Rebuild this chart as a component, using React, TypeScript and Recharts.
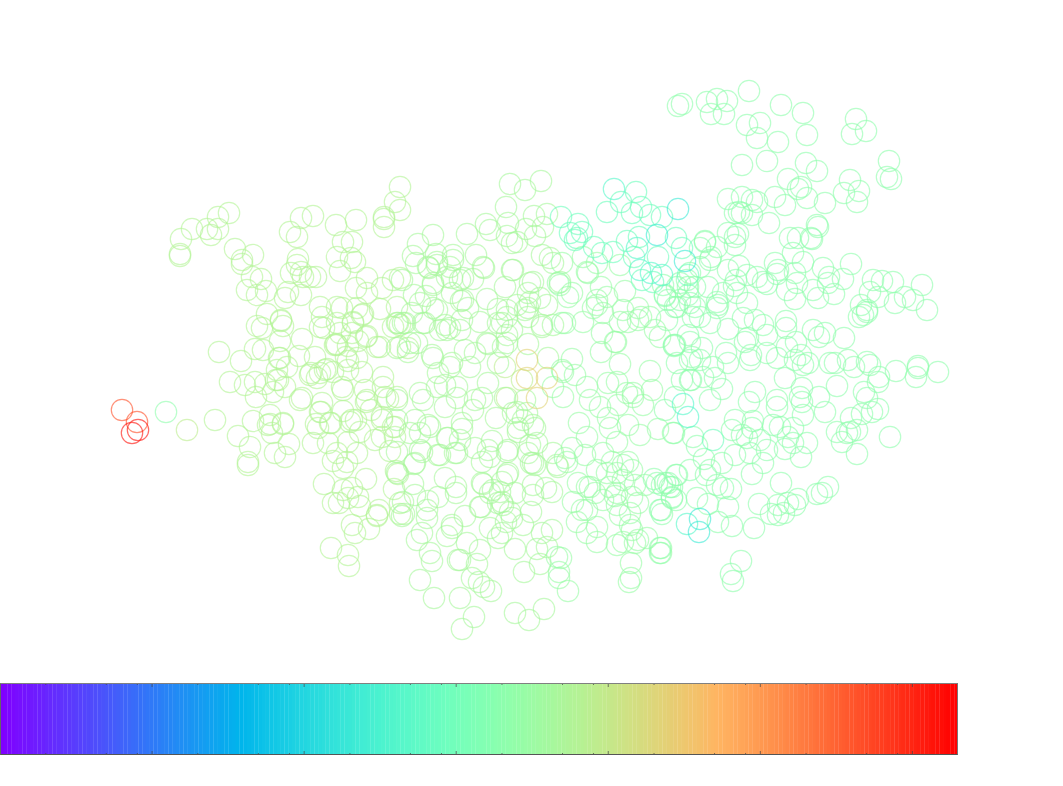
import { BarChart, Bar, Cell, ScatterChart, Scatter, XAxis, YAxis } from "recharts";

type Pt = [number, number];

// colour value of each group, read against the colour bar
const redValue = 0.98;
const coralValue = 0.9;
const tanValue = 0.69;
const yellowGreenValue = 0.62;
const leftValue = 0.6;
const centerValue = 0.58;
const midValue = 0.55;
const rightValue = 0.53;
const tealValue = 0.47;
const aquaValue = 0.42;
const cyanValue = 0.37;

const redPoints: Pt[] = [[138, 430], [132, 433]];
const coralPoints: Pt[] = [[122, 410], [137, 422]];
const tanPoints: Pt[] = [[527, 360], [527, 378], [547, 378], [537, 398]];
const yellowGreenPoints: Pt[] = [[187, 430], [507, 398], [505, 367], [522, 380]];

const leftPoints: Pt[] = [
  [229, 213], [218, 217], [218, 229], [207, 229], [211, 235], [192, 229], [181, 239], [180, 254], [180, 256], [235, 249],
  [253, 255], [242, 260], [242, 264], [252, 277], [261, 279], [247, 290], [257, 295], [266, 291], [301, 218], [313, 216],
  [290, 232], [297, 237], [336, 225], [356, 220], [384, 217], [384, 219], [384, 227], [400, 187], [395, 202], [400, 210],
  [343, 242], [352, 242], [337, 257], [351, 258], [355, 262], [340, 271], [298, 259], [297, 265], [291, 273], [301, 272],
  [303, 277], [310, 277], [316, 277], [367, 278], [356, 288], [367, 293], [382, 288], [393, 280], [400, 278], [285, 298],
  [288, 292], [301, 295], [320, 307], [337, 307], [322, 317], [342, 308], [357, 308], [363, 314], [380, 309], [397, 307],
  [267, 314], [281, 321], [281, 320], [283, 326], [257, 326], [262, 328], [280, 341], [302, 339], [320, 327], [324, 328],
  [353, 322], [353, 323], [337, 323], [367, 336], [366, 337], [393, 327], [400, 325], [336, 344], [337, 345], [348, 346],
  [358, 341], [377, 347], [380, 347], [400, 347], [219, 352], [241, 361], [255, 349], [263, 350], [299, 356], [315, 357],
  [279, 358], [280, 358], [287, 367], [277, 370], [357, 358], [348, 361], [346, 357], [348, 370], [362, 372], [327, 369],
  [333, 372], [320, 373], [317, 378], [311, 373], [383, 377], [230, 382], [245, 385], [255, 382], [265, 384], [278, 380],
  [276, 380], [285, 387], [300, 400], [273, 392], [256, 397], [343, 390], [365, 390], [383, 387], [397, 397], [367, 400],
  [215, 420], [238, 436], [250, 447], [248, 462], [248, 465], [253, 421], [270, 415], [270, 424], [268, 425], [272, 433],
  [283, 424], [289, 444], [275, 453], [285, 457], [322, 403], [321, 412], [343, 411], [331, 423], [330, 423], [316, 424],
  [318, 428], [313, 443], [328, 443], [337, 453], [333, 461], [347, 462], [343, 468], [348, 442], [357, 453], [352, 420],
  [356, 420], [360, 432], [371, 410], [366, 402], [382, 417], [388, 399], [382, 437], [375, 440], [390, 451], [395, 427],
  [395, 437], [366, 479], [324, 484], [352, 488], [343, 490], [348, 498], [358, 497], [333, 503], [339, 503], [360, 506],
  [394, 489], [396, 471], [398, 474], [379, 510], [377, 515], [377, 516], [400, 514], [400, 503], [352, 525], [355, 533],
  [369, 529], [331, 548], [348, 555], [349, 566], [362, 315], [352, 333], [340, 333], [335, 345], [398, 323], [408, 348],
  [325, 370], [310, 375], [342, 387], [385, 397], [302, 398], [320, 412], [350, 422], [382, 420], [393, 427], [283, 423],
];

const centerPoints: Pt[] = [
  [510, 184], [525, 190], [541, 181], [506, 207], [486, 224], [508, 223], [534, 216], [547, 214], [526, 229], [543, 227],
  [490, 230], [507, 236], [517, 242], [512, 243], [535, 236], [433, 235], [467, 234], [418, 244], [413, 256], [416, 263],
  [436, 254], [437, 265], [453, 255], [450, 267], [476, 255], [484, 268], [429, 268], [402, 280], [433, 283], [447, 277],
  [460, 280], [473, 279], [512, 270], [542, 255], [550, 258], [533, 282], [505, 287], [414, 295], [426, 296], [437, 310],
  [452, 293], [461, 301], [487, 299], [507, 310], [528, 293], [530, 302], [547, 305], [525, 310], [498, 309], [480, 322],
  [502, 323], [512, 330], [528, 317], [542, 327], [553, 325], [397, 323], [403, 323], [417, 343], [408, 352], [397, 348],
  [432, 355], [440, 330], [447, 330], [460, 330], [468, 308], [425, 323], [488, 344], [503, 347], [528, 344], [475, 353],
  [452, 363], [438, 373], [470, 367], [498, 363], [548, 358], [488, 383], [457, 387], [420, 393], [445, 385], [482, 398],
  [397, 400], [423, 400], [445, 407], [457, 398], [496, 418], [475, 400], [505, 398], [525, 400], [517, 412],
  [535, 428], [523, 420], [518, 432], [415, 420], [397, 420], [428, 425], [410, 433], [420, 433], [462, 429], [447, 438],
  [457, 453], [438, 455], [422, 452], [397, 452], [415, 463], [414, 464], [475, 448], [492, 441], [488, 450], [490, 457],
  [482, 462], [508, 450], [507, 452], [530, 445], [537, 443], [528, 453], [533, 463], [531, 463], [508, 473], [507, 475],
  [502, 482], [483, 484], [493, 490], [490, 493], [500, 492], [515, 493], [502, 502], [503, 505], [498, 503], [533, 485],
  [533, 495], [397, 473], [413, 484], [445, 478], [456, 487], [456, 493], [438, 497], [428, 501], [415, 495], [403, 502],
  [404, 514], [402, 516], [427, 510], [427, 518], [422, 533], [417, 540], [452, 525], [452, 528], [447, 536], [465, 516],
  [481, 507], [467, 543], [480, 550], [460, 560], [458, 560], [477, 564], [430, 553], [432, 561], [420, 580], [434, 598],
  [460, 598], [472, 578], [479, 582], [484, 587], [491, 591], [474, 617], [462, 629], [515, 613], [529, 620], [544, 609],
  [524, 572], [540, 564], [515, 549], [537, 549], [547, 547], [498, 538], [502, 533], [490, 528], [512, 518], [523, 525],
  [542, 533], [552, 530], [531, 512], [506, 522], [510, 512], [480, 507], [552, 492], [546, 488], [557, 465], [553, 453],
  [428, 267], [437, 262], [453, 260], [483, 267], [463, 278], [452, 278], [433, 285], [420, 303], [433, 308], [412, 313],
  [405, 323], [423, 323], [445, 325], [462, 320], [450, 328], [463, 300], [513, 270], [530, 283], [540, 298], [560, 282],
  [553, 263], [517, 305], [528, 308], [507, 317], [498, 323], [542, 325], [507, 335], [507, 343], [487, 343], [410, 343],
  [433, 358], [465, 350], [450, 367], [437, 387], [473, 410], [462, 423], [430, 427], [448, 438], [460, 440], [440, 455],
  [420, 450], [455, 453], [518, 428], [527, 413], [533, 425], [513, 413], [558, 467], [535, 465], [482, 483],
];

const midPoints: Pt[] = [
  [583, 257], [587, 272], [588, 273], [597, 263], [620, 265], [568, 297], [601, 287], [625, 291], [607, 297], [597, 300],
  [593, 308], [603, 313], [623, 310], [638, 308], [641, 317], [638, 320], [628, 322], [650, 317], [655, 330], [660, 337],
  [562, 263], [558, 283], [560, 285], [565, 323], [583, 322], [601, 352], [616, 342], [620, 364], [650, 371], [617, 382],
  [608, 383], [633, 393], [652, 390], [572, 359], [563, 372], [562, 370], [575, 375], [553, 387], [587, 387], [563, 397],
  [627, 393], [579, 423], [587, 437], [603, 453], [600, 407], [590, 400], [610, 428], [617, 442], [628, 425], [608, 418],
  [640, 435], [618, 405], [643, 405], [658, 429], [633, 397], [567, 462], [572, 448], [565, 458], [585, 455], [597, 470],
  [578, 483], [590, 487], [607, 473], [617, 473], [612, 462], [623, 465], [628, 462], [632, 470], [623, 480], [610, 487],
  [635, 485], [645, 485], [573, 502], [582, 510], [587, 510], [577, 522], [587, 533], [597, 527], [597, 542], [617, 545],
  [623, 542], [638, 540], [635, 543], [647, 538], [632, 530], [630, 525], [620, 515], [630, 513], [617, 505], [615, 496],
  [617, 493], [638, 503], [632, 497], [595, 493], [587, 487], [603, 500], [559, 572], [559, 578], [568, 591], [557, 557],
  [561, 558], [631, 563], [631, 578], [629, 582], [661, 548], [661, 553], [673, 433], [572, 293], [597, 305], [620, 322],
  [602, 333], [615, 342], [562, 323],
];

const rightPoints: Pt[] = [
  [678, 106], [682, 104], [707, 102], [717, 99], [727, 101], [711, 114], [724, 114], [749, 91], [781, 105], [803, 113],
  [747, 125], [760, 123], [757, 138], [778, 142], [807, 135], [856, 119], [866, 131], [852, 134], [889, 161], [887, 177],
  [891, 179], [742, 165], [767, 161], [806, 163], [817, 171], [788, 179], [801, 187], [798, 189], [807, 198], [825, 203],
  [850, 180], [859, 191], [844, 193], [857, 202], [728, 199], [742, 197], [752, 200], [757, 202], [775, 197], [785, 205],
  [735, 213], [739, 212], [742, 213], [752, 215], [769, 223], [817, 225], [818, 227], [728, 233], [738, 234], [735, 237],
  [735, 245], [705, 241], [700, 248], [717, 247], [711, 257], [790, 238], [798, 238], [812, 239], [811, 238], [793, 253],
  [803, 262], [775, 263], [778, 270], [777, 274], [823, 268], [829, 277], [851, 264], [843, 279], [795, 273], [797, 283],
  [787, 290], [813, 290], [828, 283], [834, 294], [818, 298], [795, 299], [739, 266], [728, 270], [747, 275], [757, 277],
  [767, 284], [763, 282], [736, 280], [734, 286], [737, 293], [747, 303], [723, 293], [717, 302], [708, 287], [700, 267],
  [695, 287], [687, 280], [688, 287], [695, 307], [873, 280], [882, 281], [893, 282], [922, 285], [870, 292], [878, 297],
  [895, 303], [905, 297], [913, 300], [927, 310], [861, 305], [867, 310], [859, 317], [863, 315], [867, 312],
  [786, 321], [786, 328], [813, 330], [819, 337], [825, 333], [844, 338], [755, 320], [763, 325], [743, 318], [748, 338],
  [745, 342], [767, 335], [728, 329], [710, 323], [693, 317], [717, 308], [677, 307], [667, 320], [688, 335], [675, 345],
  [674, 345], [692, 357], [702, 348], [700, 360], [713, 367], [726, 353], [728, 363], [751, 355], [750, 360], [767, 353],
  [777, 358], [796, 342], [787, 347], [801, 355], [803, 365], [808, 363], [795, 360], [785, 378], [830, 363], [835, 363],
  [848, 360], [854, 367], [867, 362], [870, 365], [879, 377], [878, 382], [896, 371], [916, 377], [918, 366], [918, 368],
  [938, 372], [837, 386], [864, 392], [867, 398], [819, 397], [825, 412], [802, 388], [800, 397], [802, 402], [803, 415],
  [755, 392], [749, 402], [777, 407], [777, 400], [878, 409], [872, 412], [862, 414], [851, 418], [857, 430], [850, 432],
  [837, 432], [842, 442], [847, 433], [890, 437], [857, 454], [807, 443], [801, 457], [793, 443], [785, 449], [788, 437],
  [793, 428], [780, 427], [773, 425], [753, 421], [752, 428], [735, 420], [732, 430], [742, 435], [747, 438], [760, 440],
  [767, 450], [735, 455], [750, 453], [763, 463], [710, 400], [722, 389], [715, 378], [703, 377], [691, 380], [682, 380],
  [675, 397], [665, 410], [674, 433], [693, 437], [697, 446], [704, 459], [722, 463], [710, 470], [706, 475], [690, 470],
  [677, 475], [717, 485], [731, 489], [723, 488], [670, 487], [665, 483], [672, 498], [697, 498], [708, 504], [660, 510],
  [718, 522], [732, 526], [754, 528], [759, 504], [781, 483], [771, 514], [778, 505], [778, 515], [784, 513], [788, 503],
  [798, 499], [817, 494], [822, 493], [828, 487], [795, 505], [741, 561], [731, 574], [733, 581], [660, 548], [660, 553],
  [654, 479], [657, 483], [668, 483], [672, 487], [662, 485], [676, 500], [672, 497], [661, 510], [662, 514], [676, 475],
  [674, 346], [690, 342], [677, 363], [690, 360], [690, 380], [166, 412], [690, 273], [665, 296], [665, 295], [680, 283],
  [675, 307], [688, 295], [690, 303], [663, 285], [677, 287], [680, 300], [668, 300], [752, 474], [728, 507], [705, 242],
  [710, 260], [718, 305], [700, 317],
];

const tealPoints: Pt[] = [
  [570, 233], [578, 224], [582, 232], [577, 238], [575, 240], [636, 192], [621, 202], [607, 212], [641, 207], [632, 213],
  [650, 215], [561, 217], [627, 241], [639, 237], [613, 252], [602, 253], [594, 247], [634, 257], [658, 257], [642, 280],
  [653, 282], [676, 238], [682, 248], [688, 275], [713, 440], [662, 217],
];

const aquaPoints: Pt[] = [[637, 248], [640, 270], [651, 273], [662, 275], [683, 404], [688, 417], [687, 524], [614, 189]];

const cyanPoints: Pt[] = [[678, 209], [657, 235], [685, 261], [700, 519], [699, 532]];

const groups: { points: Pt[]; value: number }[] = [
  { points: leftPoints, value: leftValue },
  { points: yellowGreenPoints, value: yellowGreenValue },
  { points: centerPoints, value: centerValue },
  { points: midPoints, value: midValue },
  { points: rightPoints, value: rightValue },
  { points: tealPoints, value: tealValue },
  { points: aquaPoints, value: aquaValue },
  { points: cyanPoints, value: cyanValue },
  { points: tanPoints, value: tanValue },
  { points: coralPoints, value: coralValue },
  { points: redPoints, value: redValue },
];

// colour bar: one band per colormap level, log-spaced ticks
const bandCount = 256;
const barDecades = [1, 10, 100, 1000, 10000, 100000];
const minorSteps = [2, 5, 8];
const barTicks = barDecades.flatMap((d) => [...minorSteps.map((m) => m * d), d * 10]);

// same ramp as matplotlib's "rainbow"
function rainbow(v: number) {
  const r = Math.min(1, Math.abs(2 * v - 0.5));
  const g = Math.sin(Math.PI * v);
  const b = Math.cos((Math.PI * v) / 2);
  return `rgb(${Math.round(r * 255)},${Math.round(g * 255)},${Math.round(b * 255)})`;
}

const bands = Array.from({ length: bandCount }, (_, i) => ({ level: i / (bandCount - 1), span: 1 }));

const barWidth = 958;
const barHeight = 72;

function BarTick({ cx, payload }: any) {
  const len = Number.isInteger(payload.decade) ? 4 : 2;
  return (
    <g stroke="#444" strokeOpacity={0.7}>
      <line x1={cx} x2={cx} y1={0} y2={len} />
      <line x1={cx} x2={cx} y1={barHeight - len} y2={barHeight} />
    </g>
  );
}

export default function App() {
  return (
    <div style={{ position: "absolute", left: 0, top: 0, width: 1063, height: 786, background: "#fff" }}>
      <div style={{ position: "absolute", left: 0, top: 0 }}>
        <ScatterChart width={957} height={680} margin={{ top: 0, right: 0, bottom: 0, left: 0 }}>
          <XAxis type="number" dataKey="x" domain={[0, 957]} hide />
          <YAxis type="number" dataKey="y" domain={[0, 680]} reversed hide />
          {groups.map((g, i) => (
            <Scatter
              key={i}
              data={g.points.map(([x, y]) => ({ x, y }))}
              isAnimationActive={false}
              shape={(p: any) => (
                <circle cx={p.cx} cy={p.cy} r={10.7} fill="none" stroke={rainbow(g.value)} strokeOpacity={0.62} strokeWidth={1.2} />
              )}
            />
          ))}
        </ScatterChart>
      </div>
      <div style={{ position: "absolute", left: 0, top: 683, width: barWidth, height: barHeight }}>
        <BarChart width={barWidth} height={barHeight} data={bands} barCategoryGap={0} barGap={0} margin={{ top: 0, right: 0, bottom: 0, left: 0 }}>
          <XAxis dataKey="level" hide />
          <YAxis domain={[0, 1]} hide />
          <Bar dataKey="span" isAnimationActive={false}>
            {bands.map((b) => (
              <Cell key={b.level} fill={rainbow(b.level)} />
            ))}
          </Bar>
        </BarChart>
        <div style={{ position: "absolute", left: 0, top: 0 }}>
          <ScatterChart width={barWidth} height={barHeight} margin={{ top: 0, right: 0, bottom: 0, left: 0 }}>
            <XAxis type="number" dataKey="decade" domain={[0, 6.3]} hide />
            <YAxis type="number" dataKey="row" domain={[0, 1]} hide />
            <Scatter
              data={barTicks.map((t) => ({ decade: Math.log10(t), row: 0 }))}
              isAnimationActive={false}
              shape={(p: any) => <BarTick cx={p.cx} payload={p.payload} />}
            />
          </ScatterChart>
        </div>
        <div
          style={{
            position: "absolute",
            left: 0,
            top: 0,
            width: barWidth,
            height: barHeight,
            boxSizing: "border-box",
            borderTop: "1px solid #808080",
            borderBottom: "1px solid #555",
            borderLeft: "1px solid #666",
            borderRight: "1px solid #777",
          }}
        />
      </div>
    </div>
  );
}
